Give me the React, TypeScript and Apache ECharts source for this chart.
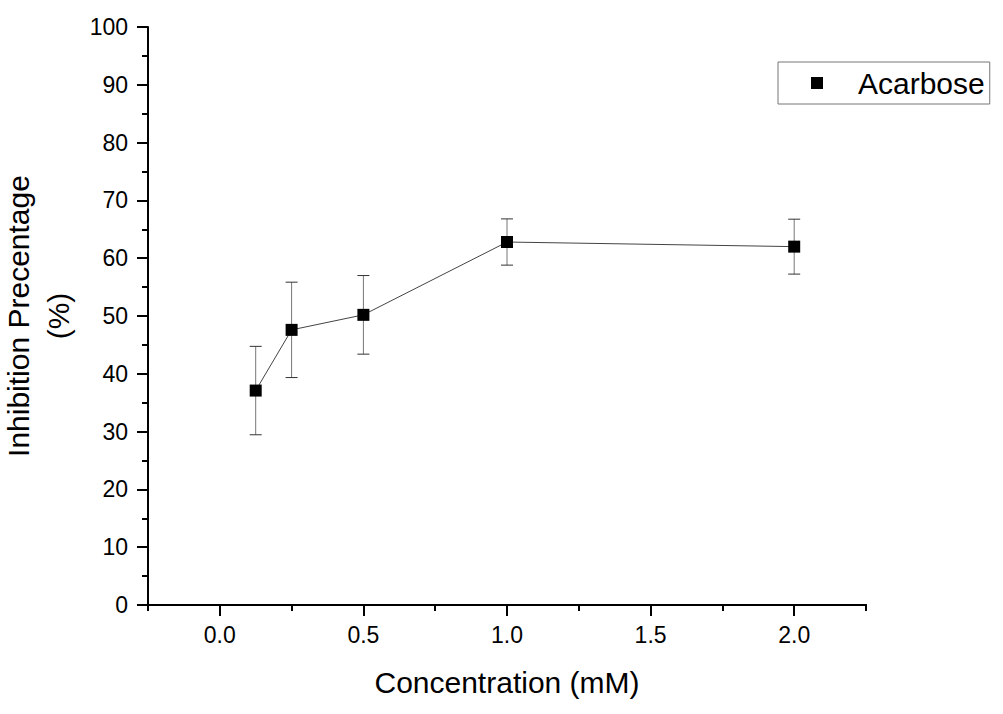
import React, { useEffect, useRef } from "react";
import * as echarts from "echarts";

const concentrations = [0.125, 0.25, 0.5, 1.0, 2.0];
const inhibition = [37.1, 47.6, 50.2, 62.8, 62.0];
const errors = [7.65, 8.25, 6.8, 4.0, 4.75];
const xMajorTicks = [0, 0.5, 1.0, 1.5, 2.0];
const seriesName = "Acarbose";

const FONT = "'Liberation Sans', Arial, sans-serif";

export default function App() {
  const ref = useRef<HTMLDivElement>(null);
  useEffect(() => {
    document.body.style.margin = "0";
    if (!ref.current) return;
    const chart = echarts.init(ref.current, undefined, { renderer: "svg" });
    const points = concentrations.map((x, i) => [x, inhibition[i]]);
    const errData = concentrations.map((x, i) => [x, inhibition[i], errors[i]]);
    chart.setOption({
      animation: false,
      backgroundColor: "#fff",
      textStyle: { fontFamily: FONT },
      grid: { left: 148, right: 137, top: 27, bottom: 109, containLabel: false, outerBoundsMode: "none" },
      legend: {
        data: [seriesName],
        left: 778,
        top: 62,
        orient: "vertical",
        icon: "rect",
        itemWidth: 12,
        itemHeight: 12,
        padding: [6, 5, 6, 33],
        borderColor: "#777",
        borderWidth: 1,
        textStyle: { fontFamily: FONT, fontSize: 30, color: "#000", padding: [0, 0, 0, 30] },
      },
      xAxis: [
        {
          type: "value",
          min: -0.25,
          max: 2.25,
          interval: 0.25,
          axisLine: { show: true, onZero: false, lineStyle: { color: "#000", width: 2 } },
          axisTick: { show: true, length: 6, lineStyle: { color: "#000", width: 2 } },
          axisLabel: { show: false },
          splitLine: { show: false },
        },
        {
          type: "value",
          position: "bottom",
          min: -0.25,
          max: 2.25,
          interval: 0.25,
          name: "Concentration (mM)",
          nameLocation: "middle",
          nameGap: 62,
          nameTextStyle: { fontFamily: FONT, fontSize: 30, color: "#000" },
          axisLine: { show: true, onZero: false, lineStyle: { color: "#000", width: 2 } },
          axisTick: { show: true, length: 11, customValues: xMajorTicks, lineStyle: { color: "#000", width: 2 } },
          axisLabel: {
            show: true,
            customValues: xMajorTicks,
            margin: 18,
            fontFamily: FONT,
            fontSize: 23,
            color: "#000",
            formatter: (v: number) => v.toFixed(1),
          },
          splitLine: { show: false },
        },
      ],
      yAxis: {
        type: "value",
        min: 0,
        max: 100,
        interval: 10,
        name: "Inhibition Precentage\n(%)",
        nameLocation: "middle",
        nameRotate: 90,
        nameGap: 54,
        nameTextStyle: { fontFamily: FONT, fontSize: 30, color: "#000", lineHeight: 40 },
        axisLine: { show: true, onZero: false, lineStyle: { color: "#000", width: 2 } },
        axisTick: { show: true, length: 11, lineStyle: { color: "#000", width: 2 } },
        minorTick: { show: true, splitNumber: 2, length: 6, lineStyle: { color: "#000", width: 2 } },
        axisLabel: { margin: 20, fontFamily: FONT, fontSize: 23, color: "#000" },
        splitLine: { show: false },
      },
      series: [
        {
          type: "custom",
          xAxisIndex: 0,
          yAxisIndex: 0,
          z: 1,
          silent: true,
          data: errData,
          renderItem: (params: any, api: any) => {
            const x = api.value(0);
            const y = api.value(1);
            const e = api.value(2);
            const top = api.coord([x, y + e]);
            const bot = api.coord([x, y - e]);
            const hw = 6;
            const style = { stroke: "#333", lineWidth: 1 };
            return {
              type: "group",
              children: [
                { type: "line", shape: { x1: top[0], y1: top[1], x2: bot[0], y2: bot[1] }, style: { stroke: "#777", lineWidth: 1 } },
                { type: "line", shape: { x1: top[0] - hw, y1: top[1], x2: top[0] + hw, y2: top[1] }, style },
                { type: "line", shape: { x1: bot[0] - hw, y1: bot[1], x2: bot[0] + hw, y2: bot[1] }, style },
              ],
            };
          },
        },
        {
          name: seriesName,
          type: "line",
          xAxisIndex: 0,
          yAxisIndex: 0,
          z: 3,
          data: points,
          symbol: "rect",
          symbolSize: 12,
          itemStyle: { color: "#000" },
          lineStyle: { color: "#444", width: 1 },
        },
      ],
    });
    return () => chart.dispose();
  }, []);
  return <div ref={ref} style={{ width: 1003, height: 714 }} />;
}
